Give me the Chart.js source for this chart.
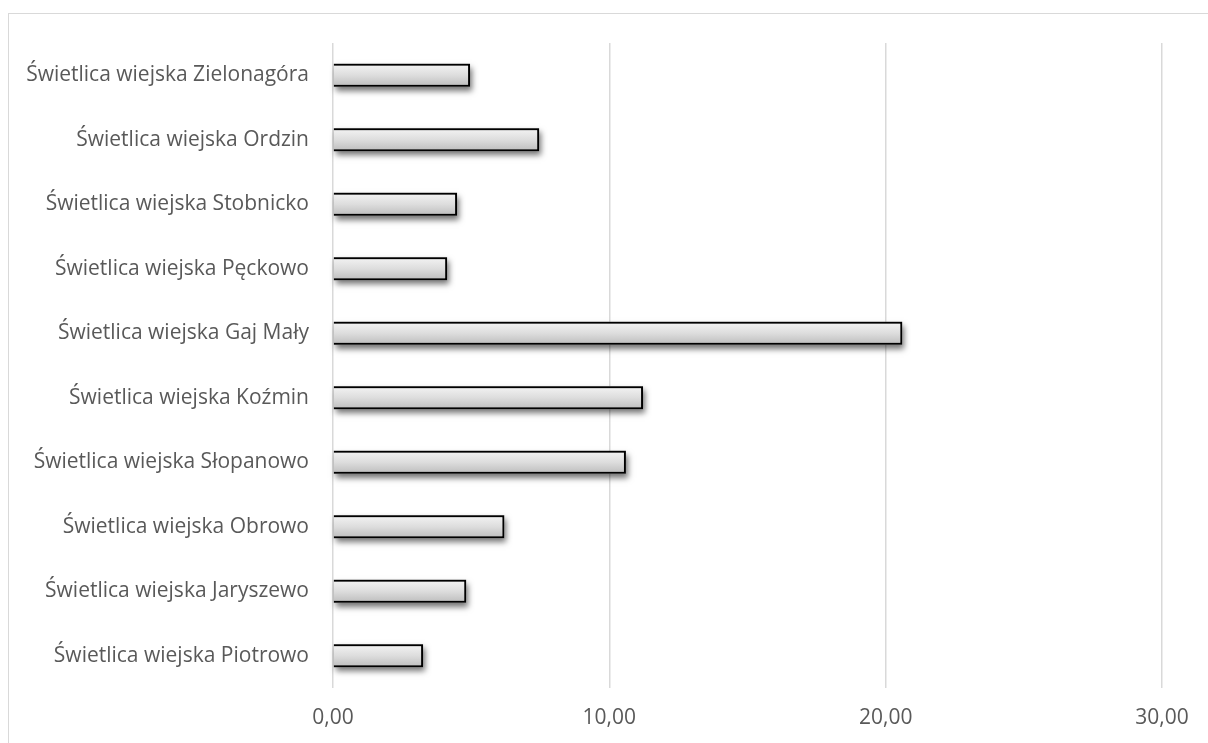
<!DOCTYPE html>
<html lang="pl">
<head>
<meta charset="utf-8">
<script src="https://cdn.jsdelivr.net/npm/chart.js@4.4.1/dist/chart.umd.min.js"></script>
<style>
  html, body { margin: 0; padding: 0; background: #fff; }
  #wrap { position: relative; width: 1208px; height: 743px; overflow: hidden; }
  #frame { position: absolute; left: 8px; top: 13px; width: 1300px; height: 800px;
           border-left: 1.5px solid #d9d9d9; border-top: 1.5px solid #d9d9d9; box-sizing: border-box; }
  #c { position: absolute; left: 0; top: 0; }
</style>
</head>
<body>
<div id="wrap">
  <div id="frame"></div>
  <canvas id="c" width="1208" height="743"></canvas>
</div>
<script>
const categories = [
  'Świetlica wiejska Zielonagóra',
  'Świetlica wiejska Ordzin',
  'Świetlica wiejska Stobnicko',
  'Świetlica wiejska Pęckowo',
  'Świetlica wiejska Gaj Mały',
  'Świetlica wiejska Koźmin',
  'Świetlica wiejska Słopanowo',
  'Świetlica wiejska Obrowo',
  'Świetlica wiejska Jaryszewo',
  'Świetlica wiejska Piotrowo'
];
const values = [4.96, 7.46, 4.49, 4.13, 20.6, 11.22, 10.6, 6.2, 4.82, 3.26];
const xTicks = [0, 10, 20, 30];

const BAR_PCT = 0.36;

// vertical grey gradient per bar, computed from the category scale
function barGradient(ctx) {
  const chart = ctx.chart;
  const ys = chart.scales.y;
  if (!ys || ctx.dataIndex === undefined) return '#d9d9d9';
  const c = ys.getPixelForValue(ctx.dataIndex);
  const half = (ys.height / categories.length) * BAR_PCT / 2;
  if (!isFinite(c) || !isFinite(half) || half <= 0) return '#d9d9d9';
  const g = chart.ctx.createLinearGradient(0, c - half, 0, c + half);
  g.addColorStop(0, '#f4f4f4');
  g.addColorStop(0.5, '#dddddd');
  g.addColorStop(1, '#bcbcbc');
  return g;
}

// soft drop shadow under each bar (the bar element clips its own drawing,
// so the shadow is painted beneath it from the element geometry)
const barShadow = {
  id: 'barShadow',
  beforeDatasetsDraw(chart) {
    const c = chart.ctx;
    const meta = chart.getDatasetMeta(0);
    c.save();
    c.shadowColor = 'rgba(0,0,0,0.55)';
    c.shadowBlur = 6;
    c.shadowOffsetX = 2;
    c.shadowOffsetY = 4;
    c.fillStyle = '#888';
    meta.data.forEach(el => {
      const { x, y, base, height } = el.getProps(['x', 'y', 'base', 'height'], true);
      const left = Math.min(x, base), w = Math.abs(x - base);
      c.fillRect(left, y - height / 2, w, height);
    });
    c.restore();
  }
};

const FONT = "'Open Sans', sans-serif";

new Chart(document.getElementById('c'), {
  type: 'bar',
  data: {
    labels: categories,
    datasets: [{
      data: values,
      backgroundColor: barGradient,
      borderColor: '#000000',
      borderWidth: 2,
      borderSkipped: 'start',
      barPercentage: BAR_PCT,
      categoryPercentage: 1
    }]
  },
  options: {
    indexAxis: 'y',
    responsive: false,
    animation: false,
    events: [],
    layout: { padding: { top: 43, right: 46, left: 0, bottom: 0 } },
    plugins: { legend: { display: false }, tooltip: { enabled: false } },
    scales: {
      x: {
        min: 0, max: 30,
        afterBuildTicks(scale) { scale.ticks = xTicks.map(v => ({ value: v })); },
        afterFit(scale) { scale.height = 55; },
        grid: { color: '#d9d9d9', lineWidth: 1.5, drawTicks: false },
        border: { display: false },
        ticks: {
          padding: 17,
          color: '#595959',
          font: { family: FONT, size: 21 },
          callback: v => v.toFixed(2).replace('.', ',')
        }
      },
      y: {
        afterFit(scale) { scale.width = 333; },
        grid: { display: false, drawTicks: false },
        border: { display: false },
        ticks: {
          padding: 24,
          color: '#595959',
          font: { family: FONT, size: 21 }
        }
      }
    }
  },
  plugins: [barShadow]
});
</script>
</body>
</html>
